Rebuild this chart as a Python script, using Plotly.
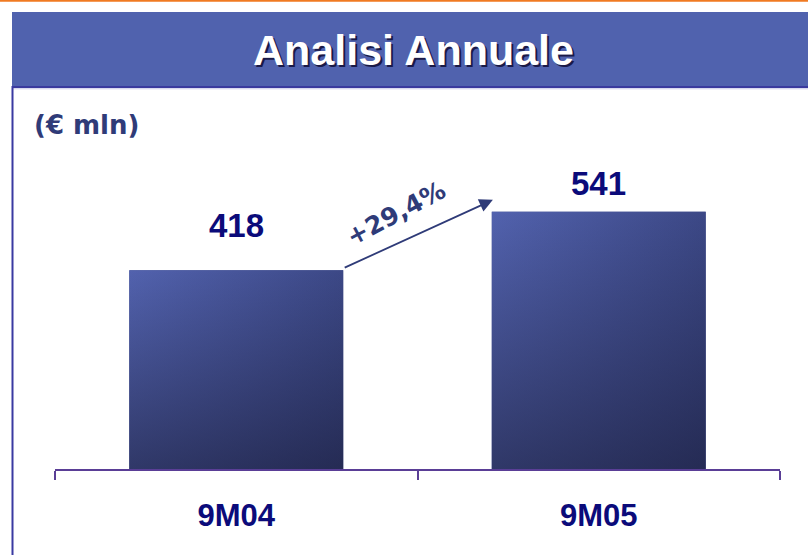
import plotly.graph_objects as go

# ---- data ----
categories = ["9M04", "9M05"]
values = [418, 541]
title_text = "Analisi Annuale"
unit_text = "(€ mln)"

# ---- layout constants (pixels) ----
W, H = 808, 555
L, R, T, B = 55, 28, 100, 86
PW, PH = W - L - R, H - T - B
YMAX = 776
BAR_W = 0.59

def px_x(px):
    return (px - L) / PW

def px_y(py):
    return (H - B - py) / PH

NAVY = "#0B0B7A"
DARK = "#2F3B78"
AXIS = "#5A3E96"

fig = go.Figure()

# bars (base)
fig.add_trace(go.Bar(x=categories, y=values, width=BAR_W,
                     marker=dict(color="#3F4C8C", line=dict(width=0)),
                     hoverinfo="skip", showlegend=False))

# gradient overlays derived from the same values (numeric overlay axis)
for i, v in enumerate(values):
    xs = [i - BAR_W / 2, i + BAR_W / 2, i + BAR_W / 2, i - BAR_W / 2, i - BAR_W / 2]
    ys = [0, 0, v, v, 0]
    fig.add_trace(go.Scatter(x=xs, y=ys, xaxis="x2", mode="lines", fill="toself",
                             line=dict(width=0),
                             fillgradient=dict(type="horizontal",
                                               colorscale=[[0, "#5262AE"], [1, "#3C4886"]]),
                             hoverinfo="skip", showlegend=False))
    fig.add_trace(go.Scatter(x=xs, y=ys, xaxis="x2", mode="lines", fill="toself",
                             line=dict(width=0),
                             fillgradient=dict(type="vertical",
                                               colorscale=[[0, "rgba(14,14,34,0.5)"],
                                                           [1, "rgba(14,14,34,0)"]]),
                             hoverinfo="skip", showlegend=False))

shapes = [
    # orange top rule
    dict(type="line", xref="paper", yref="paper", x0=px_x(0), x1=px_x(W),
         y0=px_y(0.8), y1=px_y(0.8), line=dict(color="#F07A22", width=1.8)),
    # header band
    dict(type="rect", xref="paper", yref="paper", x0=px_x(12), x1=px_x(W + 2),
         y0=px_y(86), y1=px_y(12), fillcolor="#5062AE", line=dict(width=0), layer="below"),
    dict(type="line", xref="paper", yref="paper", x0=px_x(12), x1=px_x(W + 2),
         y0=px_y(87), y1=px_y(87), line=dict(color="#3A3A9E", width=2)),
    dict(type="line", xref="paper", yref="paper", x0=px_x(13), x1=px_x(W + 2),
         y0=px_y(88.8), y1=px_y(88.8), line=dict(color="#C8C8E8", width=1)),
    # left border
    dict(type="line", xref="paper", yref="paper", x0=px_x(12.5), x1=px_x(12.5),
         y0=px_y(86), y1=px_y(H + 2), line=dict(color="#3A3AA2", width=2)),
]

annotations = []
# title with shadow
for dx, dy, col in [(2.5, -2.5, "#1A1A48"), (0, 0, "white")]:
    annotations.append(dict(text=f"<b>{title_text}</b>", xref="paper", yref="paper",
                            x=px_x(413), y=px_y(50), xshift=dx, yshift=dy,
                            xanchor="center", yanchor="middle", showarrow=False,
                            font=dict(family="Liberation Sans, Arial", size=43, color=col)))
annotations.append(dict(text=f"<b>{unit_text}</b>", xref="paper", yref="paper",
                        x=px_x(32), y=px_y(125), xanchor="left", yanchor="middle",
                        showarrow=False,
                        font=dict(family="DejaVu Sans", size=26, color=DARK)))

# value labels
label_shift = [45, 28]
for i, v in enumerate(values):
    annotations.append(dict(text=f"<b>{v}</b>", x=i, y=v, xref="x2", yref="y",
                            yshift=label_shift[i], xanchor="center", yanchor="middle",
                            showarrow=False,
                            font=dict(family="Liberation Sans, Arial", size=33, color=NAVY)))

# growth arrow
tail_x, tail_y = 0 + BAR_W / 2, values[0] + 4
head_x, head_y = 1 - BAR_W / 2 + 0.003, values[1] + 25
annotations.append(dict(x=head_x, y=head_y, ax=tail_x, ay=tail_y, xref="x2", yref="y",
                        axref="x2", ayref="y", text="", showarrow=True,
                        arrowhead=2, arrowsize=1.5, arrowwidth=1.8, arrowcolor=DARK))
growth = (values[1] / values[0] - 1) * 100
growth_txt = "+" + f"{growth:.1f}".replace(".", ",") + "%"
annotations.append(dict(text=f"<b>{growth_txt}</b>", x=(tail_x + head_x) / 2,
                        y=(tail_y + head_y) / 2, xref="x2", yref="y",
                        xshift=-22, yshift=21, textangle=-28, showarrow=False,
                        font=dict(family="DejaVu Sans", size=25, color=DARK)))

fig.update_layout(
    width=W, height=H,
    margin=dict(l=L, r=R, t=T, b=B, pad=0),
    paper_bgcolor="white", plot_bgcolor="white",
    shapes=shapes, annotations=annotations,
    showlegend=False,
    xaxis=dict(type="category", range=[-0.5, 1.5], tickson="boundaries",
               showline=True, linecolor=AXIS, linewidth=2,
               ticks="outside", ticklen=9, tickwidth=2, tickcolor=AXIS,
               showgrid=False, zeroline=False, fixedrange=True,
               tickfont=dict(family="Liberation Sans, Arial", size=31, color=NAVY),
               tickprefix="<b>", ticksuffix="</b>", ticklabelstandoff=18),
    xaxis2=dict(overlaying="x", range=[-0.5, 1.5], visible=False, fixedrange=True),
    yaxis=dict(range=[0, YMAX], visible=False, fixedrange=True),
)

fig.write_html("out.html", config={"displayModeBar": False},
               post_script="document.body.style.margin='0';document.body.style.overflow='hidden';")
